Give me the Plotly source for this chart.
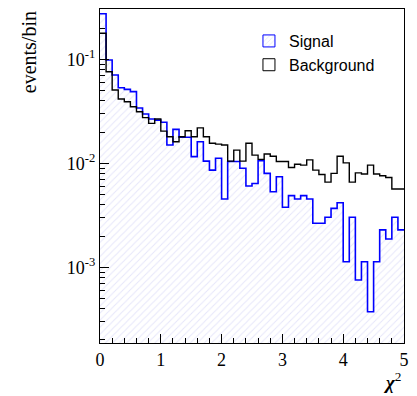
import numpy as np
import plotly.graph_objects as go

# bin edges: 50 bins of width 0.1 from 0 to 5
bin_lo = [round(0.1 * i, 1) for i in range(50)]
x_max = 5.0

signal = [0.274, 0.0985, 0.0706, 0.0533, 0.0514, 0.0489, 0.034, 0.0298, 0.0267, 0.026,
          0.0248, 0.015, 0.0212, 0.0178, 0.0178, 0.0116, 0.0161, 0.0105, 0.0086, 0.0112,
          0.00454, 0.0104, 0.0104, 0.00895, 0.00605, 0.0064, 0.0106, 0.008, 0.00533, 0.00743,
          0.00378, 0.00489, 0.00454, 0.00489, 0.00454, 0.00265, 0.00265, 0.00303, 0.00369, 0.00418,
          0.00113, 0.00303, 0.000755, 0.00113, 0.000374, 0.00113, 0.00229, 0.00187, 0.00303, 0.00229]

background = [0.178, 0.076, 0.0507, 0.0415, 0.0391, 0.035, 0.0313, 0.0275, 0.0242, 0.0267,
              0.0204, 0.018, 0.0161, 0.018, 0.0206, 0.018, 0.0219, 0.018, 0.0156, 0.0153,
              0.015, 0.0105, 0.0134, 0.0105, 0.0156, 0.012, 0.0109, 0.0123, 0.0117, 0.0104,
              0.0104, 0.0091, 0.0098, 0.0096, 0.0108, 0.0086, 0.0078, 0.0066, 0.008, 0.0117,
              0.0101, 0.0066, 0.0081, 0.0079, 0.0096, 0.0079, 0.0076, 0.0073, 0.00566, 0.00566]

x_ticks = [0, 1, 2, 3, 4, 5]
y_ticks = [1e-3, 1e-2, 1e-1]
y_ticktext = ["10<sup>-3</sup>", "10<sup>-2</sup>", "10<sup>-1</sup>"]

xs = bin_lo + [x_max]
sig_y = signal + [signal[-1]]
bkg_y = background + [background[-1]]

BLUE = "rgb(0,0,255)"
SERIF = "Liberation Serif"
SANS = "Liberation Sans"

fig = go.Figure()

fig.add_trace(go.Scatter(
    x=xs, y=sig_y, mode="lines", line=dict(shape="hv", color=BLUE, width=1.6),
    fill="tozeroy", fillcolor="rgba(0,0,0,0)",
    fillpattern=dict(shape="/", fgcolor="rgb(205,205,245)", bgcolor="white", size=5, solidity=0.2),
    showlegend=False, hoverinfo="skip"))

fig.add_trace(go.Scatter(
    x=xs, y=bkg_y, mode="lines", line=dict(shape="hv", color="black", width=1.4),
    showlegend=False, hoverinfo="skip"))

# legend entries
fig.add_trace(go.Bar(x=[None], y=[None], name="Signal",
                     marker=dict(color="white", line=dict(color=BLUE, width=1),
                                 pattern=dict(shape="/", fgcolor="rgb(190,190,240)", size=4, solidity=0.2))))
fig.add_trace(go.Bar(x=[None], y=[None], name="Background",
                     marker=dict(color="white", line=dict(color="black", width=1))))

fig.update_layout(
    width=417, height=396,
    margin=dict(l=100, r=13, t=9, b=53),
    paper_bgcolor="white", plot_bgcolor="white",
    showlegend=True,
    legend=dict(x=0.49, y=0.955, xanchor="left", yanchor="top",
                bgcolor="rgba(0,0,0,0)", borderwidth=0,
                font=dict(family=SANS, size=16, color="black"),
                tracegroupgap=0, itemwidth=30),
    xaxis=dict(range=[0, 5], tickvals=x_ticks, ticktext=[str(v) for v in x_ticks],
               ticks="inside", ticklen=9, tickwidth=1, tickcolor="black",
               minor=dict(dtick=0.2, ticks="inside", ticklen=5, tickcolor="black"),
               showline=True, linecolor="black", linewidth=1.2, mirror=True,
               showgrid=False, zeroline=False,
               tickfont=dict(family=SERIF, size=18, color="black")),
    yaxis=dict(type="log", range=[-3.728, -0.516], tickvals=y_ticks, ticktext=y_ticktext,
               ticks="inside", ticklen=9, tickwidth=1, tickcolor="black",
               minor=dict(ticks="inside", ticklen=5, tickcolor="black", dtick="D1"),
               showline=True, linecolor="black", linewidth=1.2, mirror=True,
               showgrid=False, zeroline=False,
               tickfont=dict(family=SERIF, size=18, color="black")),
    annotations=[
        dict(text="events/bin", xref="paper", yref="paper", x=-0.235, y=0.998,
             xanchor="center", yanchor="top", textangle=-90, showarrow=False,
             font=dict(family=SERIF, size=20, color="black")),
        dict(text="<b><i>χ</i></b><sup>2</sup>", xref="paper", yref="paper", x=1.0, y=-0.072,
             xanchor="right", yanchor="top", showarrow=False,
             font=dict(family=SERIF, size=19, color="black")),
    ],
)

fig.write_html("out.html")
